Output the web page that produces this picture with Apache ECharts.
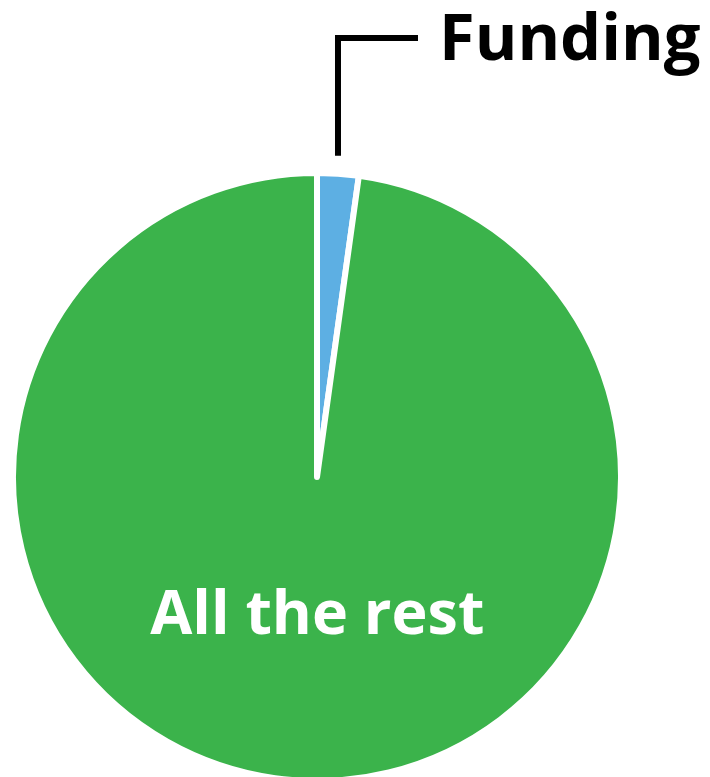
<!DOCTYPE html>
<html>
<head>
<meta charset="utf-8">
<script src="https://cdn.jsdelivr.net/npm/echarts@6/dist/echarts.min.js"></script>
<style>html,body{margin:0;padding:0;background:#fff;}#c{width:710px;height:777px;}</style>
</head>
<body>
<div id="c"></div>
<script>
var categories = ['Funding', 'All the rest'];
var values = [2.2, 97.8];
var colors = ['#5dafe3', '#3bb34b'];

var chart = echarts.init(document.getElementById('c'), null, {renderer: 'canvas'});
var data = categories.map(function (name, i) {
  var d = {name: name, value: values[i], itemStyle: {color: colors[i]}};
  if (i === 0) {
    d.label = {position: 'outside', color: '#000', fontSize: 65, fontWeight: 'bold', fontFamily: 'Open Sans'};
    d.labelLine = {show: true, lineStyle: {color: '#000', width: 6, cap: 'butt', join: 'miter'}};
  } else {
    d.label = {position: 'inside', color: '#fff', fontSize: 61, fontWeight: 'bold', fontFamily: 'Open Sans', offset: [11, -15]};
    d.labelLine = {show: false};
  }
  return d;
});
chart.setOption({
  animation: false,
  series: [{
    type: 'pie',
    center: [317, 477],
    radius: [0, 304],
    startAngle: 90,
    clockwise: true,
    avoidLabelOverlap: false,
    itemStyle: {borderColor: '#fff', borderWidth: 6},
    label: {show: true, formatter: '{b}'},
    labelLayout: function (params) {
      if (params.dataIndex !== 0 || !params.labelLinePoints) return {};
      var p = params.labelLinePoints[0];
      var topY = 38;
      return {
        x: p[0] + 101,
        y: topY + 3,
        align: 'left',
        verticalAlign: 'middle',
        labelLinePoints: [[p[0], p[1] - 18], [p[0], topY], [p[0] + 80, topY]]
      };
    },
    data: data
  }]
});
</script>
</body>
</html>
